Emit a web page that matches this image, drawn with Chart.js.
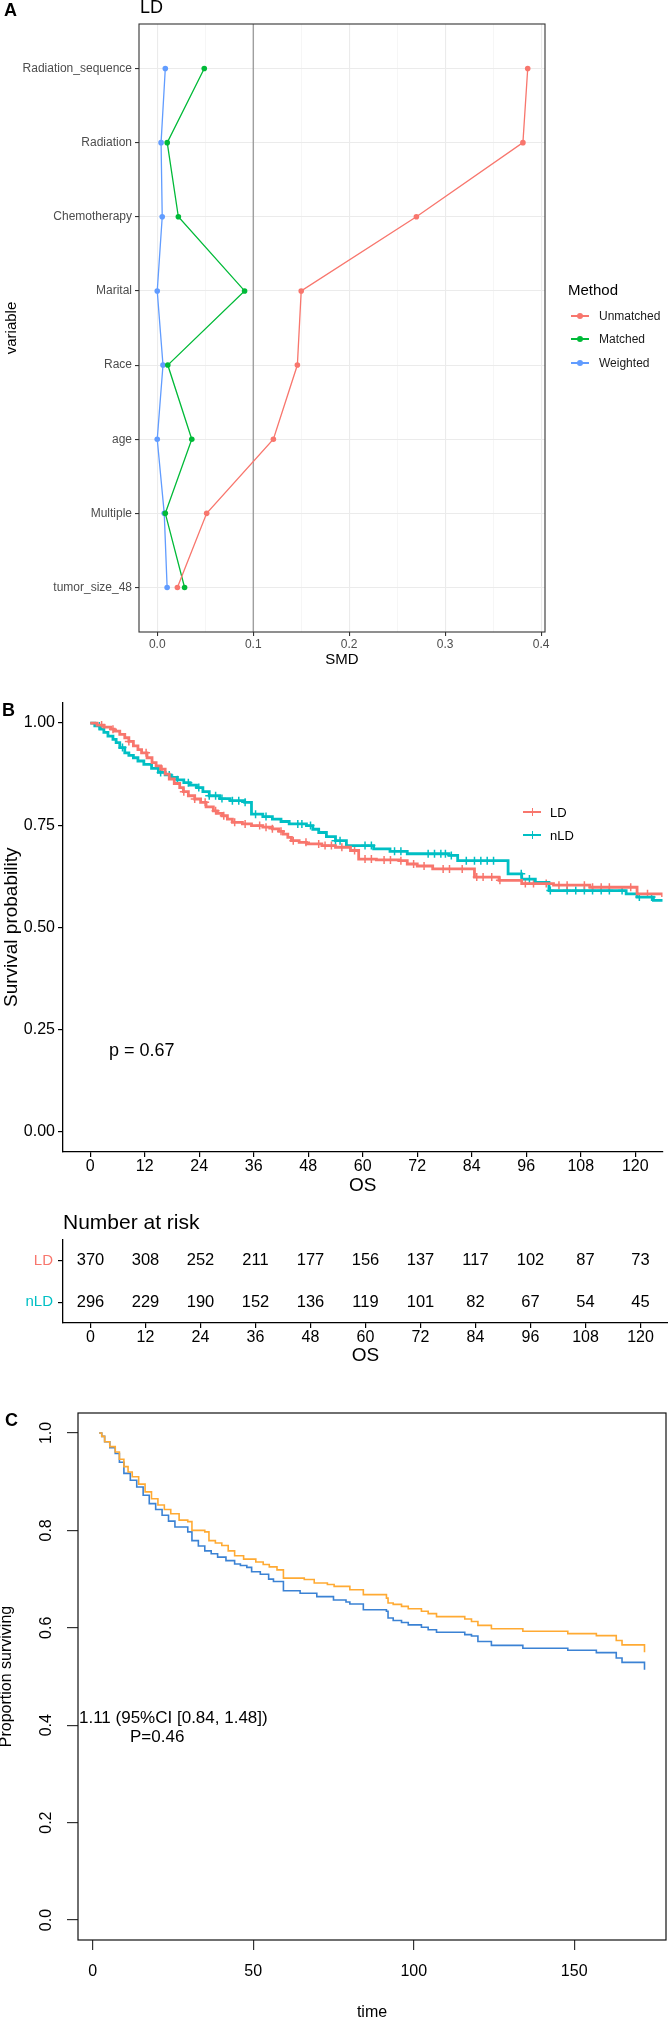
<!DOCTYPE html>
<html>
<head>
<meta charset="utf-8">
<script src="https://cdn.jsdelivr.net/npm/chart.js@4.4.1/dist/chart.umd.min.js"></script>
<style>
  body { margin: 0; background: #fff; font-family: "Liberation Sans", Arial, sans-serif; }
  #page { position: relative; width: 668px; height: 2018px; overflow: hidden; background: #fff; }
  canvas { position: absolute; left: 0; }
  .t { position: absolute; white-space: nowrap; line-height: 1; }
  .key { position: absolute; height: 1.5px; width: 18px; }
  .dot { position: absolute; width: 6px; height: 6px; border-radius: 50%; }
</style>
</head>
<body>
<div id="page">
  <canvas id="smd" width="668" height="680" style="top:0"></canvas>
  <canvas id="km" width="668" height="510" style="top:690px"></canvas>
  <canvas id="risk" width="668" height="170" style="top:1200px"></canvas>
  <canvas id="cox" width="668" height="635" style="top:1395px"></canvas>

  <div class="t" style="left:4px;top:1px;font-size:18px;font-weight:bold">A</div>
  <div class="t" style="left:140px;top:-2px;font-size:18px">LD</div>
  <div class="t" style="left:568px;top:282px;font-size:15px">Method</div>
  <div id="legA"></div>

  <div class="t" style="left:2px;top:701px;font-size:18px;font-weight:bold">B</div>
  <div id="legB"></div>
  <div class="t" style="left:109px;top:1041px;font-size:18px">p = 0.67</div>
  <div class="t" style="left:63px;top:1211px;font-size:21px">Number at risk</div>

  <div class="t" style="left:5px;top:1411px;font-size:18px;font-weight:bold">C</div>
  <div class="t" style="left:79px;top:1709px;font-size:17px">1.11 (95%CI [0.84, 1.48])</div>
  <div class="t" style="left:130px;top:1728px;font-size:17px">P=0.46</div>
</div>
<script>
// ---- panel A: SMD by variable ----
const variables = ["tumor_size_48", "Multiple", "age", "Race", "Marital", "Chemotherapy", "Radiation", "Radiation_sequence"];
const smdUnmatched = [0.021, 0.0515, 0.121, 0.146, 0.150, 0.270, 0.381, 0.386];
const smdMatched = [0.0285, 0.0084, 0.036, 0.011, 0.091, 0.022, 0.0104, 0.049];
const smdWeighted = [0.0103, 0.0073, 0.0, 0.006, 0.0, 0.0052, 0.004, 0.0084];
const smdTicks = [0, 0.1, 0.2, 0.3, 0.4];
const smdMinor = [0.05, 0.15, 0.25, 0.35];
const smdThreshold = 0.1;
const methods = ["Unmatched", "Matched", "Weighted"];
const methodColors = ["#F8766D", "#00BA38", "#619CFF"];

// ---- panel B: Kaplan-Meier, LD vs nLD ----
const osTicks = [0, 12, 24, 36, 48, 60, 72, 84, 96, 108, 120];
const ldTime = [0, 1.5, 3, 4.5, 5.3, 6.5, 7.6, 8.5, 9.5, 10.5, 11.3, 12.5, 13.6, 14.5, 15.5, 16.5, 17.4, 18.5, 19.7, 20.5,
  21.6, 23, 24.3, 25.5, 27.1, 28, 29, 30.2, 31.3, 33.5, 35.5, 38, 40.1, 41.5, 42.5, 43.5, 44.3, 46, 47.6, 51,
  54, 57.3, 59.1, 63, 68, 69.8, 72, 75.4, 84.6, 90, 95, 102, 110, 120.4, 126, 130];
const ldSurv = [1, 0.995, 0.99, 0.985, 0.98, 0.972, 0.964, 0.955, 0.944, 0.935, 0.927, 0.915, 0.903, 0.895, 0.887, 0.875, 0.863, 0.852, 0.842, 0.832,
  0.822, 0.814, 0.806, 0.795, 0.785, 0.779, 0.773, 0.765, 0.757, 0.753, 0.749, 0.745, 0.741, 0.735, 0.728, 0.72, 0.712, 0.708, 0.704, 0.7,
  0.696, 0.688, 0.667, 0.665, 0.663, 0.655, 0.65, 0.643, 0.623, 0.615, 0.607, 0.603, 0.598, 0.582, 0.574, 0.574];
const nldTime = [0, 1, 2.1, 3, 3.9, 5, 5.7, 6.5, 7.6, 8.5, 9.5, 10.5, 11.8, 13.5, 15, 16.5, 17.8, 19.2, 20.6, 22,
  23.4, 24.8, 26.2, 28.5, 30.8, 34, 35.5, 38, 40.1, 42, 43.8, 47.6, 49, 50.3, 52, 54, 56.4, 62.4, 66, 69.8,
  79, 80.9, 92, 95, 98, 101, 118, 120.4, 124, 130];
const nldSurv = [1, 0.993, 0.985, 0.977, 0.968, 0.96, 0.952, 0.94, 0.927, 0.921, 0.915, 0.907, 0.899, 0.889, 0.879, 0.873, 0.867, 0.861, 0.854, 0.848,
  0.842, 0.832, 0.822, 0.815, 0.81, 0.806, 0.777, 0.771, 0.765, 0.759, 0.753, 0.749, 0.74, 0.732, 0.722, 0.712, 0.7, 0.692, 0.686, 0.68,
  0.676, 0.663, 0.631, 0.618, 0.61, 0.59, 0.582, 0.574, 0.566, 0.566];
const ldCensor = [2.5, 5, 8.5, 12.3, 15.8, 20.6, 23, 25.3, 27.6, 29.4, 31.8, 34.1, 37.3, 38.7, 40.1, 42, 44.7, 47.5, 50.3, 51.7,
  53.1, 55.4, 58.2, 60.5, 61.9, 64.7, 66.1, 68.4, 71.2, 73.5, 77.7, 79.1, 81.9, 85.1, 86.5, 88.4, 90.2, 95.8, 97.6, 100.4,
  103.2, 105, 108.8, 110.6, 112.5, 114.3, 119, 122.7];
const nldCensor = [2, 7.1, 15.5, 17.4, 19.2, 21.6, 23.9, 26.2, 27.6, 29, 31.3, 32.7, 34.1, 36.4, 38.7, 45.7, 46.6, 48.5, 54, 55,
  60.5, 61.9, 67, 68.4, 74.4, 75.8, 77.2, 78.2, 79.5, 82.8, 84.6, 86, 87.4, 88.8, 94.9, 96.7, 101.3, 105, 106.9, 108.8,
  110.6, 112.5, 114.3, 117.1, 120.9, 123.6];
const riskLD = [370, 308, 252, 211, 177, 156, 137, 117, 102, 87, 73];
const riskNLD = [296, 229, 190, 152, 136, 119, 101, 82, 67, 54, 45];

// ---- panel C: adjusted survival curves ----
const cTicksX = [0, 50, 100, 150];
const cTicksY = [0, 0.2, 0.4, 0.6, 0.8, 1.0];
const cOrangeTime = [2, 2.8, 3.7, 5.3, 7, 8.3, 9.7, 11, 12.3, 14.3, 16.3, 18.3, 20.3, 22.3, 24.3, 26.9, 29.6, 30.9, 34.9, 36.2,
  38.2, 40.2, 42.2, 44.2, 47, 50.8, 53.1, 55, 57.4, 59.4, 65.9, 69, 73.1, 75.2, 80.1, 84.3, 91.5, 92, 93.6, 96.2,
  98.3, 102.4, 104.5, 107.1, 115.9, 118, 120, 124.2, 134, 148, 156.9, 163.1, 164.9, 171.9];
const cOrangeSurv = [1, 0.993, 0.982, 0.972, 0.961, 0.946, 0.931, 0.92, 0.91, 0.895, 0.879, 0.865, 0.852, 0.843, 0.834, 0.821, 0.818, 0.8, 0.797, 0.779,
  0.774, 0.769, 0.758, 0.748, 0.741, 0.735, 0.73, 0.725, 0.719, 0.702, 0.699, 0.692, 0.689, 0.685, 0.678, 0.668, 0.661, 0.651, 0.648, 0.644,
  0.639, 0.634, 0.629, 0.623, 0.618, 0.613, 0.605, 0.598, 0.593, 0.588, 0.584, 0.574, 0.565, 0.55];
const cBlueTime = [2, 2.8, 3.7, 5.3, 7, 8.3, 9.7, 11.7, 13.7, 15.7, 17.6, 19.6, 21.6, 23.6, 25.6, 29.6, 30.9, 32.9, 34.9, 36.9,
  38.9, 41.5, 44.2, 46, 48, 49.5, 52.2, 54.8, 56.3, 59.4, 64.6, 69.8, 75, 78.9, 80.1, 84.3, 91.5, 92, 93.6, 96.2,
  98.3, 102.4, 104.5, 107.1, 115.9, 118, 120, 124.2, 134, 148, 156.9, 163.1, 164.9, 171.9];
const cBlueSurv = [1, 0.993, 0.982, 0.97, 0.958, 0.94, 0.917, 0.903, 0.889, 0.872, 0.855, 0.843, 0.831, 0.819, 0.807, 0.797, 0.779, 0.768, 0.758, 0.752,
  0.745, 0.738, 0.731, 0.728, 0.724, 0.715, 0.71, 0.7, 0.695, 0.676, 0.671, 0.664, 0.657, 0.653, 0.649, 0.637, 0.634, 0.62, 0.615, 0.611,
  0.606, 0.601, 0.596, 0.591, 0.586, 0.583, 0.572, 0.564, 0.558, 0.554, 0.549, 0.538, 0.529, 0.514];

Chart.defaults.font.family = '"Liberation Sans", Arial, sans-serif';
Chart.defaults.animation = false;
Chart.defaults.responsive = false;
Chart.defaults.events = [];
Chart.defaults.plugins.legend.display = false;
Chart.defaults.plugins.tooltip.enabled = false;

const pts = (xs, ys) => xs.map((x, i) => ({ x: x, y: ys[i] }));
function survAt(times, surv, t) {
  let s = surv[0];
  for (let i = 0; i < times.length; i++) if (times[i] <= t) s = surv[i];
  return s;
}
const frame = (color, width) => ({
  id: 'frame',
  afterDatasetsDraw(chart) {
    const a = chart.chartArea, ctx = chart.ctx;
    ctx.save();
    ctx.strokeStyle = color;
    ctx.lineWidth = width;
    ctx.strokeRect(a.left, a.top, a.right - a.left, a.bottom - a.top);
    ctx.restore();
  }
});

// ---------- A ----------
const smdSeries = [smdUnmatched, smdMatched, smdWeighted];
new Chart(document.getElementById('smd'), {
  type: 'scatter',
  data: {
    datasets: smdSeries.map((vals, k) => ({
      label: methods[k],
      data: vals.map((v, i) => ({ x: v, y: i + 1 })),
      showLine: true,
      borderColor: methodColors[k],
      backgroundColor: methodColors[k],
      borderWidth: 1.3,
      pointRadius: 2.8,
      pointBorderWidth: 0
    }))
  },
  options: {
    layout: { padding: { top: 24, right: 123, left: 0, bottom: 0 } },
    scales: {
      x: {
        type: 'linear', min: -0.019, max: 0.404,
        afterBuildTicks: s => { s.ticks = smdTicks.concat(smdMinor).sort((a, b) => a - b).map(v => ({ value: v })); },
        afterFit: s => { s.height = 48; },
        ticks: {
          autoSkip: false, maxRotation: 0, padding: 1, color: '#4D4D4D', font: { size: 12 },
          callback: v => smdTicks.includes(v) ? v.toFixed(1) : ''
        },
        grid: {
          color: c => smdMinor.includes(c.tick.value) ? '#F2F2F2' : '#EBEBEB',
          lineWidth: c => smdMinor.includes(c.tick.value) ? 0.7 : 1.1,
          tickLength: 4,
          tickColor: c => smdMinor.includes(c.tick.value) ? 'rgba(0,0,0,0)' : '#333333'
        },
        border: { display: false },
        title: { display: true, text: 'SMD', color: '#000', font: { size: 15 }, padding: { top: 0, bottom: 11 } }
      },
      y: {
        type: 'linear', min: 0.4, max: 8.6,
        afterBuildTicks: s => { s.ticks = variables.map((v, i) => ({ value: i + 1 })); },
        afterFit: s => { s.width = 139; },
        ticks: { autoSkip: false, padding: 3, color: '#4D4D4D', font: { size: 12 }, callback: v => variables[v - 1] },
        grid: { color: '#EBEBEB', lineWidth: 1.1, tickLength: 4, tickColor: '#333333' },
        border: { display: false },
        title: { display: true, text: 'variable', color: '#000', font: { size: 15 }, padding: { top: 3, bottom: 0 } }
      }
    }
  },
  plugins: [{
    id: 'threshold',
    beforeDatasetsDraw(chart) {
      const x = chart.scales.x.getPixelForValue(smdThreshold), a = chart.chartArea, ctx = chart.ctx;
      ctx.save();
      ctx.strokeStyle = '#7F7F7F';
      ctx.lineWidth = 1;
      ctx.beginPath(); ctx.moveTo(x, a.top); ctx.lineTo(x, a.bottom); ctx.stroke();
      ctx.restore();
    }
  }, frame('#333333', 1.1)]
});

// legend A
(function () {
  const box = document.getElementById('legA');
  const ys = [316, 339, 363];
  methods.forEach((m, k) => {
    box.insertAdjacentHTML('beforeend',
      `<div class="key" style="left:571px;top:${ys[k] - 0.75}px;background:${methodColors[k]}"></div>` +
      `<div class="dot" style="left:577px;top:${ys[k] - 3}px;background:${methodColors[k]}"></div>` +
      `<div class="t" style="left:599px;top:${ys[k] - 6}px;font-size:12px;color:#1A1A1A">${m}</div>`);
  });
})();

// ---------- B ----------
const kmRed = '#F8766D', kmTeal = '#00BFC4';
const osX = (font) => ({
  type: 'linear', min: -6, max: 126,
  afterBuildTicks: s => { s.ticks = osTicks.map(v => ({ value: v })); },
  ticks: { autoSkip: false, maxRotation: 0, padding: 0, color: '#000', font: { size: font } },
  grid: { drawOnChartArea: false, tickLength: 5, tickColor: '#000', lineWidth: 1.2 },
  border: { display: true, color: '#000', width: 1.3 }
});
const censorSet = (times, curveT, curveS, color) => ({
  data: times.map(t => ({ x: t, y: survAt(curveT, curveS, t) })),
  showLine: false, pointStyle: 'cross', pointRadius: 4, pointBorderWidth: 1.5,
  borderColor: color, backgroundColor: color
});
new Chart(document.getElementById('km'), {
  type: 'line',
  data: {
    datasets: [
      { label: 'LD', data: pts(ldTime, ldSurv), stepped: true, borderColor: kmRed, borderWidth: 2.8, pointRadius: 0 },
      { label: 'nLD', data: pts(nldTime, nldSurv), stepped: true, borderColor: kmTeal, borderWidth: 2.8, pointRadius: 0 },
      censorSet(ldCensor, ldTime, ldSurv, kmRed),
      censorSet(nldCensor, nldTime, nldSurv, kmTeal)
    ]
  },
  options: {
    layout: { padding: { top: 11, right: 0, left: 0, bottom: 0 } },
    scales: {
      x: Object.assign(osX(16), {
        afterFit: s => { s.height = 48; },
        title: { display: true, text: 'OS', color: '#000', font: { size: 19 }, padding: { top: 0, bottom: 3 } }
      }),
      y: {
        type: 'linear', min: -0.05, max: 1.05,
        afterBuildTicks: s => { s.ticks = [0, 0.25, 0.5, 0.75, 1].map(v => ({ value: v })); },
        afterFit: s => { s.width = 63; },
        ticks: { padding: 3, color: '#000', font: { size: 16 }, callback: v => v.toFixed(2) },
        grid: { drawOnChartArea: false, tickLength: 5, tickColor: '#000', lineWidth: 1.2 },
        border: { display: true, color: '#000', width: 1.3 },
        title: { display: true, text: 'Survival probability', color: '#000', font: { size: 19 }, padding: { top: 0, bottom: 0 } }
      }
    }
  }
});

// legend B
(function () {
  const box = document.getElementById('legB');
  [['LD', kmRed, 812], ['nLD', kmTeal, 835]].forEach(([name, col, y]) => {
    box.insertAdjacentHTML('beforeend',
      `<div class="key" style="left:523px;top:${y - 1.2}px;height:2.5px;background:${col}"></div>` +
      `<div class="key" style="left:531.5px;top:${y - 4}px;width:1.5px;height:8px;background:${col}"></div>` +
      `<div class="t" style="left:550px;top:${y - 6.5}px;font-size:13px">${name}</div>`);
  });
})();

// ---------- risk table ----------
new Chart(document.getElementById('risk'), {
  type: 'line',
  data: {
    datasets: [
      { label: 'LD', data: pts(osTicks, osTicks.map(() => 2)), showLine: false, pointRadius: 0 },
      { label: 'nLD', data: pts(osTicks, osTicks.map(() => 1)), showLine: false, pointRadius: 0 }
    ]
  },
  options: {
    layout: { padding: { top: 40, right: 0, left: 0, bottom: 0 } },
    scales: {
      x: Object.assign(osX(16), {
        afterFit: s => { s.height = 47; },
        title: { display: true, text: 'OS', color: '#000', font: { size: 19 }, padding: { top: 0, bottom: 3 } }
      }),
      y: {
        type: 'linear', min: 0.5, max: 2.5,
        afterBuildTicks: s => { s.ticks = [{ value: 1 }, { value: 2 }]; },
        afterFit: s => { s.width = 63; },
        ticks: {
          padding: 5, font: { size: 15 },
          color: c => c.tick.value === 2 ? kmRed : kmTeal,
          callback: v => v === 2 ? 'LD' : 'nLD'
        },
        grid: { drawOnChartArea: false, tickLength: 5, tickColor: '#000', lineWidth: 1.2 },
        border: { display: true, color: '#000', width: 1.3 }
      }
    }
  },
  plugins: [{
    id: 'riskNumbers',
    afterDatasetsDraw(chart) {
      const ctx = chart.ctx;
      ctx.save();
      ctx.font = '16.5px "Liberation Sans", Arial, sans-serif';
      ctx.fillStyle = '#000';
      ctx.textAlign = 'center';
      ctx.textBaseline = 'middle';
      [riskLD, riskNLD].forEach((row, r) => {
        chart.getDatasetMeta(r).data.forEach((el, i) => ctx.fillText(String(row[i]), el.x, el.y));
      });
      ctx.restore();
    }
  }]
});

// ---------- C ----------
new Chart(document.getElementById('cox'), {
  type: 'line',
  data: {
    datasets: [
      { label: 'group 1', data: pts(cOrangeTime, cOrangeSurv), stepped: true, borderColor: '#FFAA33', borderWidth: 1.6, pointRadius: 0 },
      { label: 'group 2', data: pts(cBlueTime, cBlueSurv), stepped: true, borderColor: '#3B82D4', borderWidth: 1.6, pointRadius: 0 }
    ]
  },
  options: {
    layout: { padding: { top: 18, right: 2, left: 0, bottom: 0 } },
    scales: {
      x: {
        type: 'linear', min: -4.6, max: 178.6,
        afterBuildTicks: s => { s.ticks = cTicksX.map(v => ({ value: v })); },
        afterFit: s => { s.height = 90; },
        ticks: { autoSkip: false, maxRotation: 0, padding: 12, color: '#000', font: { size: 16 } },
        grid: { drawOnChartArea: false, tickLength: 10, tickColor: '#333', lineWidth: 1.2 },
        border: { display: false },
        title: { display: true, text: 'time', color: '#000', font: { size: 16 }, padding: { top: 0, bottom: 8 } }
      },
      y: {
        type: 'linear', min: -0.041, max: 1.041,
        afterBuildTicks: s => { s.ticks = cTicksY.map(v => ({ value: v })); },
        afterFit: s => { s.width = 78; },
        ticks: { display: false },
        grid: { drawOnChartArea: false, tickLength: 11, tickColor: '#333', lineWidth: 1.2 },
        border: { display: false },
        title: { display: true, text: 'Proportion surviving', color: '#000', font: { size: 16, lineHeight: 0.875 }, padding: { top: 0, bottom: 0 } }
      }
    }
  },
  plugins: [frame('#111', 1.2), {
    id: 'rotatedY',
    afterDraw(chart) {
      const y = chart.scales.y, ctx = chart.ctx;
      ctx.save();
      ctx.font = '16px "Liberation Sans", Arial, sans-serif';
      ctx.fillStyle = '#000';
      ctx.textAlign = 'center';
      ctx.textBaseline = 'middle';
      cTicksY.forEach(v => {
        ctx.save();
        ctx.translate(47, y.getPixelForValue(v));
        ctx.rotate(-Math.PI / 2);
        ctx.fillText(v.toFixed(1), 0, 0);
        ctx.restore();
      });
      ctx.restore();
    }
  }]
});
</script>
</body>
</html>
